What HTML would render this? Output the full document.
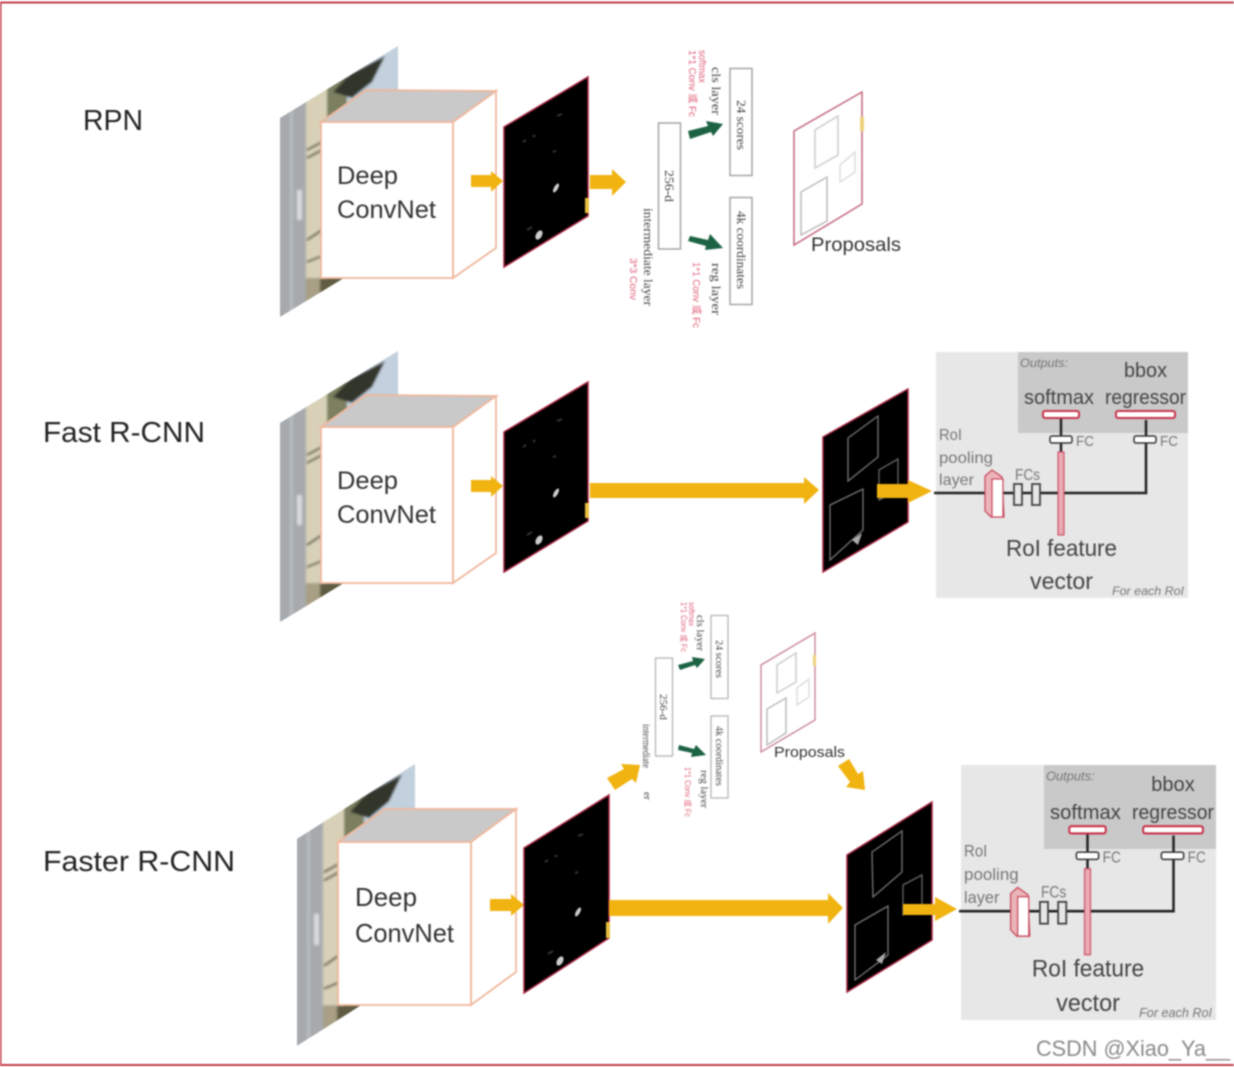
<!DOCTYPE html>
<html><head><meta charset="utf-8"><style>
html,body{margin:0;padding:0;background:#fff;width:1234px;height:1067px;overflow:hidden}
svg{display:block;filter:blur(.7px)}
text{font-family:"Liberation Sans","Noto Sans CJK SC",sans-serif;fill:#333}
.s{fill:#444;font-family:"Liberation Serif","Noto Sans CJK SC",serif;font-size:13px}
.r{font-family:"Liberation Sans","Noto Sans CJK SC",sans-serif;font-size:10px}
.g{fill:#777}
.o{fill:#f0b310}
</style></head><body>
<svg width="1234" height="1067" viewBox="0 0 1234 1067" xmlns="http://www.w3.org/2000/svg">
<defs>
<clipPath id="pl"><polygon points="280,118 398,46 398,245 280,317"/></clipPath>
<filter id="bl" x="-10%" y="-10%" width="120%" height="120%"><feGaussianBlur stdDeviation="1"/></filter>
</defs>
<rect width="1234" height="1067" fill="#fff"/>
<path d="M0,2.500H1234M0.500,2V1065M0,1065H1234" fill="none" stroke="#c23b4b" stroke-width="2"/>

<!-- STACK 1 -->
<g clip-path="url(#pl)"><g filter="url(#bl)">
<rect x="275" y="40" width="31" height="285" fill="#a6aaad"/>
<rect x="290" y="40" width="3" height="285" fill="#b8bcbe"/>
<rect x="306" y="40" width="21" height="285" fill="#d8d1b8"/>
<rect x="327" y="40" width="20" height="285" fill="#7b8060"/>
<rect x="347" y="40" width="55" height="285" fill="#c3d0dd"/>
<polygon points="333,92 350,74 385,56 372,82 352,98" fill="#30362b"/>
<rect x="306" y="278" width="14" height="40" fill="#a89f84"/>
<rect x="320" y="278" width="30" height="40" fill="#5f5c42"/>
<rect x="297" y="190" width="5" height="30" fill="#d8dadb"/>
<path d="M307,150L322,142M307,158L322,150M307,240L322,230M307,262L322,256" stroke="#544c3c" stroke-width="2"/>
</g></g>
<polygon points="321,122 366,90 496,91 453,122" fill="#c9c9c9" stroke="#efb79c" stroke-width="1.800"/>
<polygon points="453,122 496,91 496,248 453,278" fill="#fff" stroke="#efb79c" stroke-width="1.800"/>
<rect x="321" y="122" width="132" height="156" fill="#fff" stroke="#efb79c" stroke-width="1.800"/>
<text x="337" y="184" font-size="25" textLength="61" lengthAdjust="spacingAndGlyphs">Deep</text>
<text x="337" y="218" font-size="25" textLength="99" lengthAdjust="spacingAndGlyphs">ConvNet</text>
<polygon class="o" points="471,175 491,175 491,171 503,181 491,192 491,187 471,187"/>
<polygon points="504,127 588,77 588,216 504,267" fill="#000" stroke="#a8233f" stroke-width="1.500"/>
<rect x="585" y="198" width="4" height="15" fill="#e8c040"/>
<ellipse cx="556" cy="188" rx="2" ry="5" fill="#ccc" transform="rotate(30 556 188)"/>
<ellipse cx="539" cy="235" rx="3" ry="5" fill="#ccc" transform="rotate(30 539 235)"/>
<path d="M523,142l3,-2M533,137l2,-2M557,116l5,-2M553,152l3,-1M527,230l5,-3" stroke="#333" stroke-width="2"/>

<polygon class="o" points="590,175 612,175 612,169 626,182 612,196 612,189 590,189"/>

<!-- RPN -->
<text x="83" y="130" font-size="29" textLength="60" lengthAdjust="spacingAndGlyphs" style="fill:#222">RPN</text>
<rect x="658.500" y="123" width="22" height="126" fill="#fff" stroke="#a5a5a5" stroke-width="1.500"/>
<rect x="730" y="68.500" width="22" height="107" fill="#fff" stroke="#a5a5a5" stroke-width="1.500"/>
<rect x="730" y="197.500" width="22" height="107" fill="#fff" stroke="#a5a5a5" stroke-width="1.500"/>
<text class="s" transform="translate(665,170) rotate(90)" textLength="32" lengthAdjust="spacingAndGlyphs">256-d</text>
<text class="s" transform="translate(737,100) rotate(90)" textLength="50" lengthAdjust="spacingAndGlyphs">24 scores</text>
<text class="s" transform="translate(737,211) rotate(90)" textLength="78" lengthAdjust="spacingAndGlyphs">4k coordinates</text>
<text class="s" transform="translate(644,208) rotate(90)" textLength="98" lengthAdjust="spacingAndGlyphs">intermediate layer</text>
<text class="s r" transform="translate(630,258) rotate(90)" textLength="42" lengthAdjust="spacingAndGlyphs" style="fill:#e0607a">3*3 Conv</text>
<text class="s" transform="translate(712,67) rotate(90)" textLength="48" lengthAdjust="spacingAndGlyphs">cls layer</text>
<text class="s" transform="translate(712,263) rotate(90)" textLength="52" lengthAdjust="spacingAndGlyphs">reg layer</text>
<text class="s r" transform="translate(699,50) rotate(90)" textLength="33" lengthAdjust="spacingAndGlyphs" style="fill:#e0607a">softmax</text>
<text class="s r" transform="translate(689,50) rotate(90)" textLength="67" lengthAdjust="spacingAndGlyphs" style="fill:#e0607a">1*1 Conv 或 Fc</text>
<text class="s r" transform="translate(693,262) rotate(90)" textLength="66" lengthAdjust="spacingAndGlyphs" style="fill:#e0607a">1*1 Conv 或 Fc</text>
<polygon points="688,131 708,126 706,121 723,124 713,136 711,132 690,139" fill="#1c6344"/>
<polygon points="690,236 708,240 710,234 723,248 705,250 706,246 688,241" fill="#1c6344"/>
<polygon points="794,131 862,92 862,204 794,245" fill="#fff" stroke="#c2657c" stroke-width="1.500"/>
<rect x="860" y="117" width="4" height="14" fill="#eed27a"/>
<polygon points="815,130 838,116 838,155 815,168" fill="none" stroke="#ccc" stroke-width="1.500"/>
<polygon points="840,165 855,152 855,172 840,182" fill="none" stroke="#ddd" stroke-width="1.500"/>
<polygon points="801,192 827,177 827,221 801,235" fill="none" stroke="#bbb" stroke-width="1.500"/>
<text x="811" y="251" font-size="19" textLength="90" lengthAdjust="spacingAndGlyphs">Proposals</text>

<!-- FAST -->
<text x="43" y="442" font-size="29" style="fill:#222" textLength="162" lengthAdjust="spacingAndGlyphs">Fast R-CNN</text>
<g transform="translate(0,305)">
<g clip-path="url(#pl)"><g filter="url(#bl)">
<rect x="275" y="40" width="31" height="285" fill="#a6aaad"/>
<rect x="290" y="40" width="3" height="285" fill="#b8bcbe"/>
<rect x="306" y="40" width="21" height="285" fill="#d8d1b8"/>
<rect x="327" y="40" width="20" height="285" fill="#7b8060"/>
<rect x="347" y="40" width="55" height="285" fill="#c3d0dd"/>
<polygon points="333,92 350,74 385,56 372,82 352,98" fill="#30362b"/>
<rect x="306" y="278" width="14" height="40" fill="#a89f84"/>
<rect x="320" y="278" width="30" height="40" fill="#5f5c42"/>
<rect x="297" y="190" width="5" height="30" fill="#d8dadb"/>
<path d="M307,150L322,142M307,158L322,150M307,240L322,230M307,262L322,256" stroke="#544c3c" stroke-width="2"/>
</g></g>
<polygon points="321,122 366,90 496,91 453,122" fill="#c9c9c9" stroke="#efb79c" stroke-width="1.800"/>
<polygon points="453,122 496,91 496,248 453,278" fill="#fff" stroke="#efb79c" stroke-width="1.800"/>
<rect x="321" y="122" width="132" height="156" fill="#fff" stroke="#efb79c" stroke-width="1.800"/>
<text x="337" y="184" font-size="25" textLength="61" lengthAdjust="spacingAndGlyphs">Deep</text>
<text x="337" y="218" font-size="25" textLength="99" lengthAdjust="spacingAndGlyphs">ConvNet</text>
<polygon class="o" points="471,175 491,175 491,171 503,181 491,192 491,187 471,187"/>
<polygon points="504,127 588,77 588,216 504,267" fill="#000" stroke="#a8233f" stroke-width="1.500"/>
<rect x="585" y="198" width="4" height="15" fill="#e8c040"/>
<ellipse cx="556" cy="188" rx="2" ry="5" fill="#ccc" transform="rotate(30 556 188)"/>
<ellipse cx="539" cy="235" rx="3" ry="5" fill="#ccc" transform="rotate(30 539 235)"/>
<path d="M523,142l3,-2M533,137l2,-2M557,116l5,-2M553,152l3,-1M527,230l5,-3" stroke="#333" stroke-width="2"/>
</g>
<polygon class="o" points="590,483 804,483 804,477 819,490 804,504 804,498 590,498"/>
<polygon points="823,437 908,389 908,522 823,572" fill="#000" stroke="#a8233f" stroke-width="1.500"/>
<polygon points="848,438 878,416 878,457 848,481" fill="none" stroke="#777" stroke-width="1.300"/>
<polygon points="879,470 898,459 898,490 879,500" fill="none" stroke="#666" stroke-width="1.300"/>
<polygon points="830,505 863,489 863,530 830,560" fill="none" stroke="#777" stroke-width="1.300"/>
<polygon points="852,540 862,533 858,545" fill="#aaa"/>
<polygon class="o" points="877,484 908,484 908,480 932,491 908,503 908,498 877,498"/>

<!-- Panel 1 -->
<g>
<rect x="936" y="352" width="252" height="246" fill="#e7e7e7"/>
<rect x="1018" y="352" width="170" height="81" fill="#c9c9c9"/>
<text x="1020" y="367" font-size="12" font-style="italic" class="g" textLength="48" lengthAdjust="spacingAndGlyphs">Outputs:</text>
<text x="1124" y="377" font-size="20" style="fill:#444" textLength="43" lengthAdjust="spacingAndGlyphs">bbox</text>
<text x="1024" y="404" font-size="20" style="fill:#444" textLength="70" lengthAdjust="spacingAndGlyphs">softmax</text>
<text x="1105" y="404" font-size="20" style="fill:#444" textLength="81" lengthAdjust="spacingAndGlyphs">regressor</text>
<text x="939" y="440" font-size="16" class="g" textLength="23" lengthAdjust="spacingAndGlyphs">RoI</text>
<text x="939" y="463" font-size="16" class="g" textLength="54" lengthAdjust="spacingAndGlyphs">pooling</text>
<text x="939" y="485" font-size="16" class="g" textLength="35" lengthAdjust="spacingAndGlyphs">layer</text>
<text x="1015" y="480" font-size="16" class="g" textLength="25" lengthAdjust="spacingAndGlyphs">FCs</text>
<text x="1076" y="446" font-size="15" class="g" textLength="18" lengthAdjust="spacingAndGlyphs">FC</text>
<text x="1160" y="446" font-size="15" class="g" textLength="18" lengthAdjust="spacingAndGlyphs">FC</text>
<path d="M934,493H1146V420M1061,452V418" fill="none" stroke="#222" stroke-width="2.500"/>
<rect x="1043" y="411" width="36" height="7" rx="2" fill="#fff" stroke="#c8334a" stroke-width="2"/>
<rect x="1116" y="411" width="59" height="7" rx="2" fill="#fff" stroke="#c8334a" stroke-width="2"/>
<rect x="1050" y="436" width="22" height="7" rx="2" fill="#fff" stroke="#333" stroke-width="1.500"/>
<rect x="1134" y="436" width="22" height="7" rx="2" fill="#fff" stroke="#333" stroke-width="1.500"/>
<rect x="1058" y="452" width="6" height="83" fill="#eaa9b3" stroke="#c8445a"/>
<polygon points="985,476 992,470 1002,477 1004,517 991,517 985,511" fill="#eab4b8" stroke="#c8445a" stroke-width="1.200"/>
<rect x="992" y="479" width="11" height="38" fill="#fff" stroke="#c8445a" stroke-width="1.200"/>
<rect x="1014" y="484" width="8" height="21" fill="#e7e7e7" stroke="#444" stroke-width="1.800"/>
<rect x="1032" y="484" width="8" height="21" fill="#e7e7e7" stroke="#444" stroke-width="1.800"/>
<text x="1006" y="556" font-size="23" style="fill:#444" textLength="111" lengthAdjust="spacingAndGlyphs">RoI feature</text>
<text x="1030" y="589" font-size="23" style="fill:#444" textLength="63" lengthAdjust="spacingAndGlyphs">vector</text>
<text x="1112" y="595" font-size="12" font-style="italic" class="g" textLength="72" lengthAdjust="spacingAndGlyphs">For each RoI</text>
</g>

<!-- FASTER -->
<text x="43" y="871" font-size="29" style="fill:#222" textLength="192" lengthAdjust="spacingAndGlyphs">Faster R-CNN</text>
<g transform="translate(297,764) scale(1,1.0402) translate(-280,-46)">
<g clip-path="url(#pl)"><g filter="url(#bl)">
<rect x="275" y="40" width="31" height="285" fill="#a6aaad"/>
<rect x="290" y="40" width="3" height="285" fill="#b8bcbe"/>
<rect x="306" y="40" width="21" height="285" fill="#d8d1b8"/>
<rect x="327" y="40" width="20" height="285" fill="#7b8060"/>
<rect x="347" y="40" width="55" height="285" fill="#c3d0dd"/>
<polygon points="333,92 350,74 385,56 372,82 352,98" fill="#30362b"/>
<rect x="306" y="278" width="14" height="40" fill="#a89f84"/>
<rect x="320" y="278" width="30" height="40" fill="#5f5c42"/>
<rect x="297" y="190" width="5" height="30" fill="#d8dadb"/>
<path d="M307,150L322,142M307,158L322,150M307,240L322,230M307,262L322,256" stroke="#544c3c" stroke-width="2"/>
</g></g>
</g>
<polygon points="338,842 385,809 516,809 471,842" fill="#c9c9c9" stroke="#efb79c" stroke-width="1.800"/>
<polygon points="471,842 516,809 516,972 471,1005" fill="#fff" stroke="#efb79c" stroke-width="1.800"/>
<rect x="338" y="842" width="133" height="163" fill="#fff" stroke="#efb79c" stroke-width="1.800"/>
<text x="355" y="906" font-size="26" textLength="62" lengthAdjust="spacingAndGlyphs">Deep</text>
<text x="355" y="942" font-size="26" textLength="99" lengthAdjust="spacingAndGlyphs">ConvNet</text>
<polygon class="o" points="490,899 511,899 511,894 524,905 511,916 511,911 490,911"/>
<polygon points="524,848 609,795 609,938 524,993" fill="#000" stroke="#a8233f" stroke-width="1.500"/>
<rect x="606" y="922" width="4" height="16" fill="#e8c040"/>
<ellipse cx="578" cy="912" rx="2" ry="5" fill="#ccc" transform="rotate(30 578 912)"/>
<ellipse cx="560" cy="961" rx="3" ry="5" fill="#ccc" transform="rotate(30 560 961)"/>
<path d="M545,862l3,-2M555,857l2,-2M578,836l5,-2M575,873l3,-1M548,954l5,-3" stroke="#333" stroke-width="2"/>

<polygon class="o" points="609,900 828,900 828,893 843,908 828,924 828,916 609,916"/>
<polygon points="847,855 932,802 932,940 847,992" fill="#000" stroke="#a8233f" stroke-width="1.500"/>
<polygon points="872,852 902,831 902,872 873,897" fill="none" stroke="#777" stroke-width="1.300"/>
<polygon points="903,885 922,875 922,905 903,915" fill="none" stroke="#666" stroke-width="1.300"/>
<polygon points="855,925 888,906 888,955 855,980" fill="none" stroke="#777" stroke-width="1.300"/>
<polygon points="876,960 886,952 882,964" fill="#aaa"/>
<polygon class="o" points="903,904 935,904 935,897 957,909 935,921 935,915 903,915"/>

<!-- small RPN -->
<rect x="655.500" y="658" width="17" height="98" fill="#fff" stroke="#b5b5b5" stroke-width="1.300"/>
<rect x="711" y="615.500" width="17" height="83" fill="#fff" stroke="#b5b5b5" stroke-width="1.300"/>
<rect x="711" y="716" width="17" height="82" fill="#fff" stroke="#b5b5b5" stroke-width="1.300"/>
<text class="s" transform="translate(660,694) rotate(90)" style="font-size:11px" textLength="26" lengthAdjust="spacingAndGlyphs">256-d</text>
<text class="s" transform="translate(716,640) rotate(90)" style="font-size:11px" textLength="38" lengthAdjust="spacingAndGlyphs">24 scores</text>
<text class="s" transform="translate(716,726) rotate(90)" style="font-size:11px" textLength="60" lengthAdjust="spacingAndGlyphs">4k coordinates</text>
<text class="s" transform="translate(643,724) rotate(90)" style="font-size:11px" textLength="44" lengthAdjust="spacingAndGlyphs">intermediate</text>
<text class="s" transform="translate(644,792) rotate(90)" style="font-size:10px">er</text>
<text class="s" transform="translate(697,615) rotate(90)" style="font-size:11px" textLength="36" lengthAdjust="spacingAndGlyphs">cls layer</text>
<text class="s" transform="translate(701,770) rotate(90)" style="font-size:11px" textLength="38" lengthAdjust="spacingAndGlyphs">reg layer</text>
<text class="s r" transform="translate(689,602) rotate(90)" style="font-size:8px;fill:#e0607a" textLength="24" lengthAdjust="spacingAndGlyphs">softmax</text>
<text class="s r" transform="translate(681,602) rotate(90)" style="font-size:8px;fill:#e0607a" textLength="50" lengthAdjust="spacingAndGlyphs">1*1 Conv 或 Fc</text>
<text class="s r" transform="translate(685,767) rotate(90)" style="font-size:8px;fill:#e0607a" textLength="50" lengthAdjust="spacingAndGlyphs">1*1 Conv 或 Fc</text>
<polygon points="678,665 693,661 692,657 705,659 697,668 695,665 680,670" fill="#1c6344"/>
<polygon points="679,745 694,749 696,745 706,755 691,757 692,753 678,750" fill="#1c6344"/>
<polygon points="761,665 815,633 815,720 761,752" fill="#fff" stroke="#c98698" stroke-width="1.400"/>
<rect x="813" y="655" width="3" height="11" fill="#eed27a"/>
<polygon points="777,665 796,653 796,682 777,693" fill="none" stroke="#ccc" stroke-width="1.500"/>
<polygon points="797,688 809,679 809,697 797,705" fill="none" stroke="#ddd" stroke-width="1.500"/>
<polygon points="767,709 786,698 786,733 767,745" fill="none" stroke="#bbb" stroke-width="1.500"/>
<text x="774" y="757" font-size="15" textLength="71" lengthAdjust="spacingAndGlyphs">Proposals</text>
<polygon class="o" points="607,778 624,769 621,764 640,765 636,783 632,779 615,790"/>
<polygon class="o" points="849,759 858,774 863,771 865,790 846,787 850,782 838,766"/>

<!-- Panel 2 -->
<g transform="translate(961,765) scale(1.012,1.037) translate(-936,-352)">
<rect x="936" y="352" width="252" height="246" fill="#e7e7e7"/>
<rect x="1018" y="352" width="170" height="81" fill="#c9c9c9"/>
<text x="1020" y="367" font-size="12" font-style="italic" class="g" textLength="48" lengthAdjust="spacingAndGlyphs">Outputs:</text>
<text x="1124" y="377" font-size="20" style="fill:#444" textLength="43" lengthAdjust="spacingAndGlyphs">bbox</text>
<text x="1024" y="404" font-size="20" style="fill:#444" textLength="70" lengthAdjust="spacingAndGlyphs">softmax</text>
<text x="1105" y="404" font-size="20" style="fill:#444" textLength="81" lengthAdjust="spacingAndGlyphs">regressor</text>
<text x="939" y="440" font-size="16" class="g" textLength="23" lengthAdjust="spacingAndGlyphs">RoI</text>
<text x="939" y="463" font-size="16" class="g" textLength="54" lengthAdjust="spacingAndGlyphs">pooling</text>
<text x="939" y="485" font-size="16" class="g" textLength="35" lengthAdjust="spacingAndGlyphs">layer</text>
<text x="1015" y="480" font-size="16" class="g" textLength="25" lengthAdjust="spacingAndGlyphs">FCs</text>
<text x="1076" y="446" font-size="15" class="g" textLength="18" lengthAdjust="spacingAndGlyphs">FC</text>
<text x="1160" y="446" font-size="15" class="g" textLength="18" lengthAdjust="spacingAndGlyphs">FC</text>
<path d="M934,493H1146V420M1061,452V418" fill="none" stroke="#222" stroke-width="2.500"/>
<rect x="1043" y="411" width="36" height="7" rx="2" fill="#fff" stroke="#c8334a" stroke-width="2"/>
<rect x="1116" y="411" width="59" height="7" rx="2" fill="#fff" stroke="#c8334a" stroke-width="2"/>
<rect x="1050" y="436" width="22" height="7" rx="2" fill="#fff" stroke="#333" stroke-width="1.500"/>
<rect x="1134" y="436" width="22" height="7" rx="2" fill="#fff" stroke="#333" stroke-width="1.500"/>
<rect x="1058" y="452" width="6" height="83" fill="#eaa9b3" stroke="#c8445a"/>
<polygon points="985,476 992,470 1002,477 1004,517 991,517 985,511" fill="#eab4b8" stroke="#c8445a" stroke-width="1.200"/>
<rect x="992" y="479" width="11" height="38" fill="#fff" stroke="#c8445a" stroke-width="1.200"/>
<rect x="1014" y="484" width="8" height="21" fill="#e7e7e7" stroke="#444" stroke-width="1.800"/>
<rect x="1032" y="484" width="8" height="21" fill="#e7e7e7" stroke="#444" stroke-width="1.800"/>
<text x="1006" y="556" font-size="23" style="fill:#444" textLength="111" lengthAdjust="spacingAndGlyphs">RoI feature</text>
<text x="1030" y="589" font-size="23" style="fill:#444" textLength="63" lengthAdjust="spacingAndGlyphs">vector</text>
<text x="1112" y="595" font-size="12" font-style="italic" class="g" textLength="72" lengthAdjust="spacingAndGlyphs">For each RoI</text>
</g>

<text x="1036" y="1056" font-size="22" style="fill:#8a8a8a" textLength="194" lengthAdjust="spacingAndGlyphs">CSDN @Xiao_Ya__</text>
</svg>
</body></html>
